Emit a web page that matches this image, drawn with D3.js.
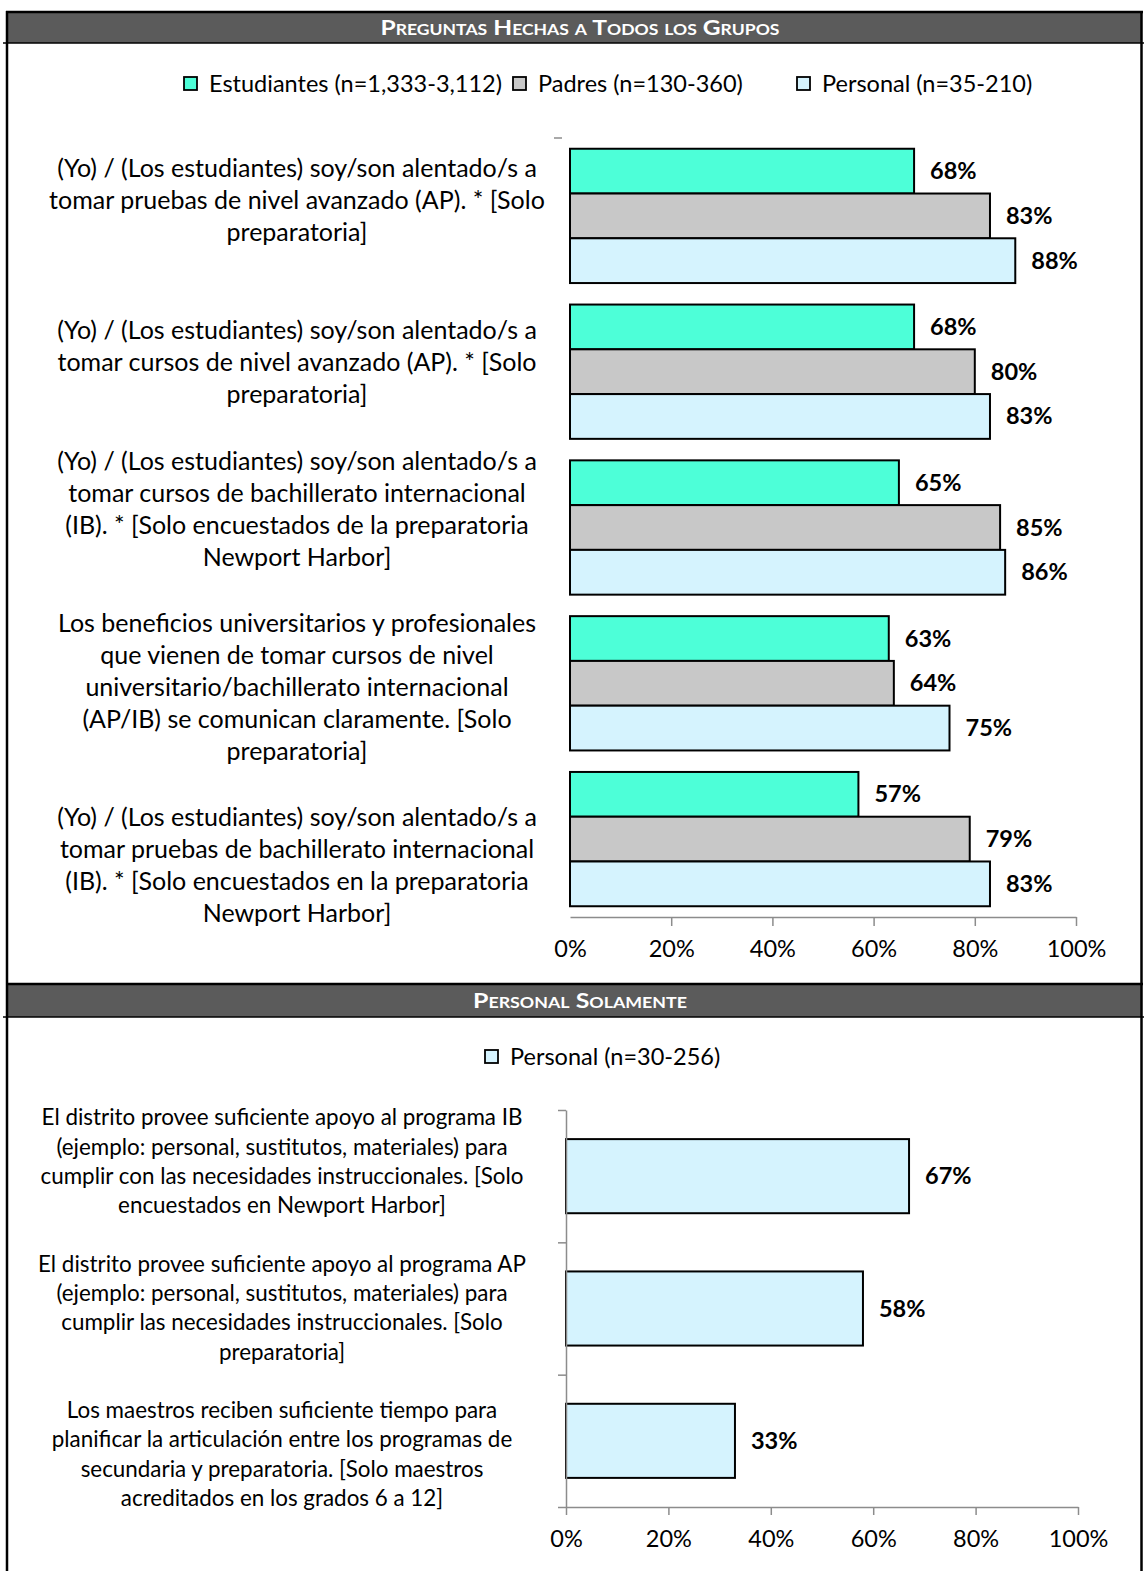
<!DOCTYPE html>
<html>
<head>
<meta charset="utf-8">
<script src="https://cdn.jsdelivr.net/npm/d3@7"></script>
<style>
    body { margin: 0; background: #ffffff; }
    svg { display: block; font-family: Lato, 'Open Sans', sans-serif; }
    .axis path, .axis line { stroke: #8c8c8c; stroke-width: 1.5; }
    .axis text { fill: #000; }
</style>
</head>
<body>
<div id="chart"></div>
<script>
// data
var topTitle = 'Preguntas Hechas a Todos los Grupos';
var bottomTitle = 'Personal Solamente';

var topSeries = ['Estudiantes (n=1,333-3,112)', 'Padres (n=130-360)', 'Personal (n=35-210)'];
var bottomSeries = ['Personal (n=30-256)'];

var topQuestions = [
    ['(Yo) / (Los estudiantes) soy/son alentado/s a', 'tomar pruebas de nivel avanzado (AP). * [Solo', 'preparatoria]'],
    ['(Yo) / (Los estudiantes) soy/son alentado/s a', 'tomar cursos de nivel avanzado (AP). * [Solo', 'preparatoria]'],
    ['(Yo) / (Los estudiantes) soy/son alentado/s a', 'tomar cursos de bachillerato internacional', '(IB). * [Solo encuestados de la preparatoria', 'Newport Harbor]'],
    ['Los beneficios universitarios y profesionales', 'que vienen de tomar cursos de nivel', 'universitario/bachillerato internacional', '(AP/IB) se comunican claramente. [Solo', 'preparatoria]'],
    ['(Yo) / (Los estudiantes) soy/son alentado/s a', 'tomar pruebas de bachillerato internacional', '(IB). * [Solo encuestados en la preparatoria', 'Newport Harbor]']
];
var estudiantes = [68, 68, 65, 63, 57];
var padres = [83, 80, 85, 64, 79];
var personal = [88, 83, 86, 75, 83];

var bottomQuestions = [
    ['El distrito provee suficiente apoyo al programa IB', '(ejemplo: personal, sustitutos, materiales) para', 'cumplir con las necesidades instruccionales. [Solo', 'encuestados en Newport Harbor]'],
    ['El distrito provee suficiente apoyo al programa AP', '(ejemplo: personal, sustitutos, materiales) para', 'cumplir las necesidades instruccionales. [Solo', 'preparatoria]'],
    ['Los maestros reciben suficiente tiempo para', 'planificar la articulación entre los programas de', 'secundaria y preparatoria. [Solo maestros', 'acreditados en los grados 6 a 12]']
];
var personalOnly = [67, 58, 33];

var ticks = [0, 20, 40, 60, 80, 100];

window.onload = start;

function start() {
    var width = 1144;
    var height = 1571;
    var colors = ['#4dffd8', '#c8c8c8', '#d5f3fe'];

    var svg = d3
        .select('#chart')
        .append('svg')
        .attr('width', width)
        .attr('height', height);

    // frame + section headers
    drawHeader(12, 31, topTitle, 399);
    drawHeader(984, 33, bottomTitle, 214);

    svg.append('line')
        .attr('x1', 7).attr('x2', 7)
        .attr('y1', 11).attr('y2', height)
        .attr('stroke', '#000').attr('stroke-width', 2.5);
    svg.append('line')
        .attr('x1', 1141.5).attr('x2', 1141.5)
        .attr('y1', 11).attr('y2', height)
        .attr('stroke', '#000').attr('stroke-width', 2.5);

    function drawHeader(y, h, title, textW) {
        svg.append('rect')
            .attr('x', 7).attr('y', y)
            .attr('width', 1135).attr('height', h)
            .attr('fill', '#5b5b5b');
        svg.append('line')
            .attr('x1', 6).attr('x2', 1143)
            .attr('y1', y).attr('y2', y)
            .attr('stroke', '#000').attr('stroke-width', 2.5);
        svg.append('line')
            .attr('x1', 3).attr('x2', 1144)
            .attr('y1', y + h).attr('y2', y + h)
            .attr('stroke', '#000').attr('stroke-width', 1.5);
        svg.append('text')
            .attr('x', 580).attr('y', y + h / 2 + 7)
            .attr('text-anchor', 'middle')
            .attr('fill', '#fff')
            .attr('font-weight', 'bold')
            .attr('font-size', 21)
            .style('font-variant', 'small-caps')
            .attr('textLength', textW)
            .attr('lengthAdjust', 'spacingAndGlyphs')
            .text(title);
    }

    // legends
    drawLegend(84, topSeries, colors, [183, 512, 796]);
    drawLegend(1057, bottomSeries, [colors[2]], [484]);

    function drawLegend(cy, names, cols, xs) {
        var items = svg.append('g')
            .selectAll('.legendItem')
            .data(names)
            .enter()
            .append('g')
            .attr('class', 'legendItem')
            .attr('transform', function(d, i) {
                return 'translate(' + xs[i] + ',' + cy + ')';
            });
        items.append('rect')
            .attr('x', 1).attr('y', -7)
            .attr('width', 13).attr('height', 13)
            .attr('fill', function(d, i) { return cols[i]; })
            .attr('stroke', '#000')
            .attr('stroke-width', 1.8);
        items.append('text')
            .attr('x', 26).attr('y', 8)
            .attr('font-size', 23.5)
            .text(function(d) { return d; });
    }

    // ---------- top chart ----------
    var topX = d3.scaleLinear().domain([0, 100]).range([570, 1076]);
    var topY = d3.scaleBand().domain(d3.range(topQuestions.length)).range([138, 917]);
    var groupH = topY.bandwidth() * 0.862;
    var inner = d3.scaleBand().domain(d3.range(3)).range([0, groupH]);

    var topData = [];
    topQuestions.forEach(function(q, i) {
        [estudiantes, padres, personal].forEach(function(s, j) {
            topData.push({ q: i, s: j, v: s[i] });
        });
    });

    var topBars = svg.append('g');
    topBars.selectAll('.topBar')
        .data(topData)
        .enter()
        .append('rect')
        .attr('class', 'topBar')
        .attr('x', topX(0))
        .attr('y', function(d) {
            return topY(d.q) + (topY.bandwidth() - groupH) / 2 + inner(d.s);
        })
        .attr('width', function(d) { return topX(d.v) - topX(0); })
        .attr('height', inner.bandwidth())
        .attr('fill', function(d) { return colors[d.s]; })
        .attr('stroke', '#000')
        .attr('stroke-width', 2);

    topBars.selectAll('.topVal')
        .data(topData)
        .enter()
        .append('text')
        .attr('class', 'topVal')
        .attr('x', function(d) { return topX(d.v) + 16; })
        .attr('y', function(d) {
            return topY(d.q) + (topY.bandwidth() - groupH) / 2 + inner(d.s) + inner.bandwidth() / 2 + 8;
        })
        .attr('font-size', 23.5)
        .attr('font-weight', 'bold')
        .text(function(d) { return d.v + '%'; });

    // Excel nudges the wrapped category labels a little
    var topLabelShift = [-16, -10, -19, 4, 26];
    drawLabels(topQuestions, topY, 297, 25, 32, topLabelShift);

    var topAxis = svg.append('g')
        .attr('class', 'x axis')
        .attr('transform', 'translate(0,917)')
        .call(d3.axisBottom(topX)
            .tickValues(ticks)
            .tickSizeOuter(0)
            .tickSizeInner(9)
            .tickPadding(14)
            .tickFormat(function(d) { return d + '%'; }));
    topAxis.selectAll('text').attr('font-size', 23.5).attr('font-family', 'Lato');
    topAxis.selectAll('.tick').filter(function(d) { return d == 0; }).select('line').remove();

    // lone y tick at the top of the category axis
    svg.append('path')
        .attr('d', 'M' + (topX(0) - 16) + ',' + topY.range()[0] + 'H' + (topX(0) - 8))
        .attr('stroke', '#8c8c8c')
        .attr('stroke-width', 1.5);

    // ---------- bottom chart ----------
    var botX = d3.scaleLinear().domain([0, 100]).range([566, 1078]);
    var botY = d3.scaleBand().domain(d3.range(bottomQuestions.length)).range([1110, 1507]);
    var barH = botY.bandwidth() * 0.56;

    var botBars = svg.append('g');
    botBars.selectAll('.botBar')
        .data(personalOnly)
        .enter()
        .append('rect')
        .attr('class', 'botBar')
        .attr('x', botX(0))
        .attr('y', function(d, i) { return botY(i) + (botY.bandwidth() - barH) / 2; })
        .attr('width', function(d) { return botX(d) - botX(0); })
        .attr('height', barH)
        .attr('fill', colors[2])
        .attr('stroke', '#000')
        .attr('stroke-width', 2);

    botBars.selectAll('.botVal')
        .data(personalOnly)
        .enter()
        .append('text')
        .attr('class', 'botVal')
        .attr('x', function(d) { return botX(d) + 16; })
        .attr('y', function(d, i) { return botY(i) + botY.bandwidth() / 2 + 8; })
        .attr('font-size', 23.5)
        .attr('font-weight', 'bold')
        .text(function(d) { return d + '%'; });

    var botLabelShift = [-15, -1, 13];
    drawLabels(bottomQuestions, botY, 282, 22.4, 29.3, botLabelShift);

    var botAxis = svg.append('g')
        .attr('class', 'x axis')
        .attr('transform', 'translate(0,1507)')
        .call(d3.axisBottom(botX)
            .tickValues(ticks)
            .tickSizeOuter(0)
            .tickSizeInner(8)
            .tickPadding(15)
            .tickFormat(function(d) { return d + '%'; }));
    botAxis.selectAll('text').attr('font-size', 23.5).attr('font-family', 'Lato');

    // category axis with ticks between the groups
    var yAxisScale = d3.scaleLinear().domain([0, bottomQuestions.length]).range([1110, 1507]);
    svg.append('g')
        .attr('class', 'y axis')
        .attr('transform', 'translate(' + botX(0) + ',0)')
        .call(d3.axisLeft(yAxisScale)
            .tickValues(d3.range(bottomQuestions.length + 1))
            .tickSizeOuter(0)
            .tickSizeInner(8)
            .tickFormat(''));

    function drawLabels(qs, yScale, cx, fs, lh, shift) {
        var g = svg.append('g')
            .selectAll('.catLabel')
            .data(qs)
            .enter()
            .append('text')
            .attr('class', 'catLabel')
            .attr('text-anchor', 'middle')
            .attr('font-size', fs)
            .attr('fill', '#000');
        g.each(function(lines, i) {
            var top = yScale(i) + yScale.bandwidth() / 2 + shift[i] - (lines.length - 1) * lh / 2;
            d3.select(this)
                .selectAll('tspan')
                .data(lines)
                .enter()
                .append('tspan')
                .attr('x', cx)
                .attr('y', function(d, k) { return top + k * lh + fs * 0.36; })
                .text(function(d) { return d; });
        });
    }
}
</script>
</body>
</html>
